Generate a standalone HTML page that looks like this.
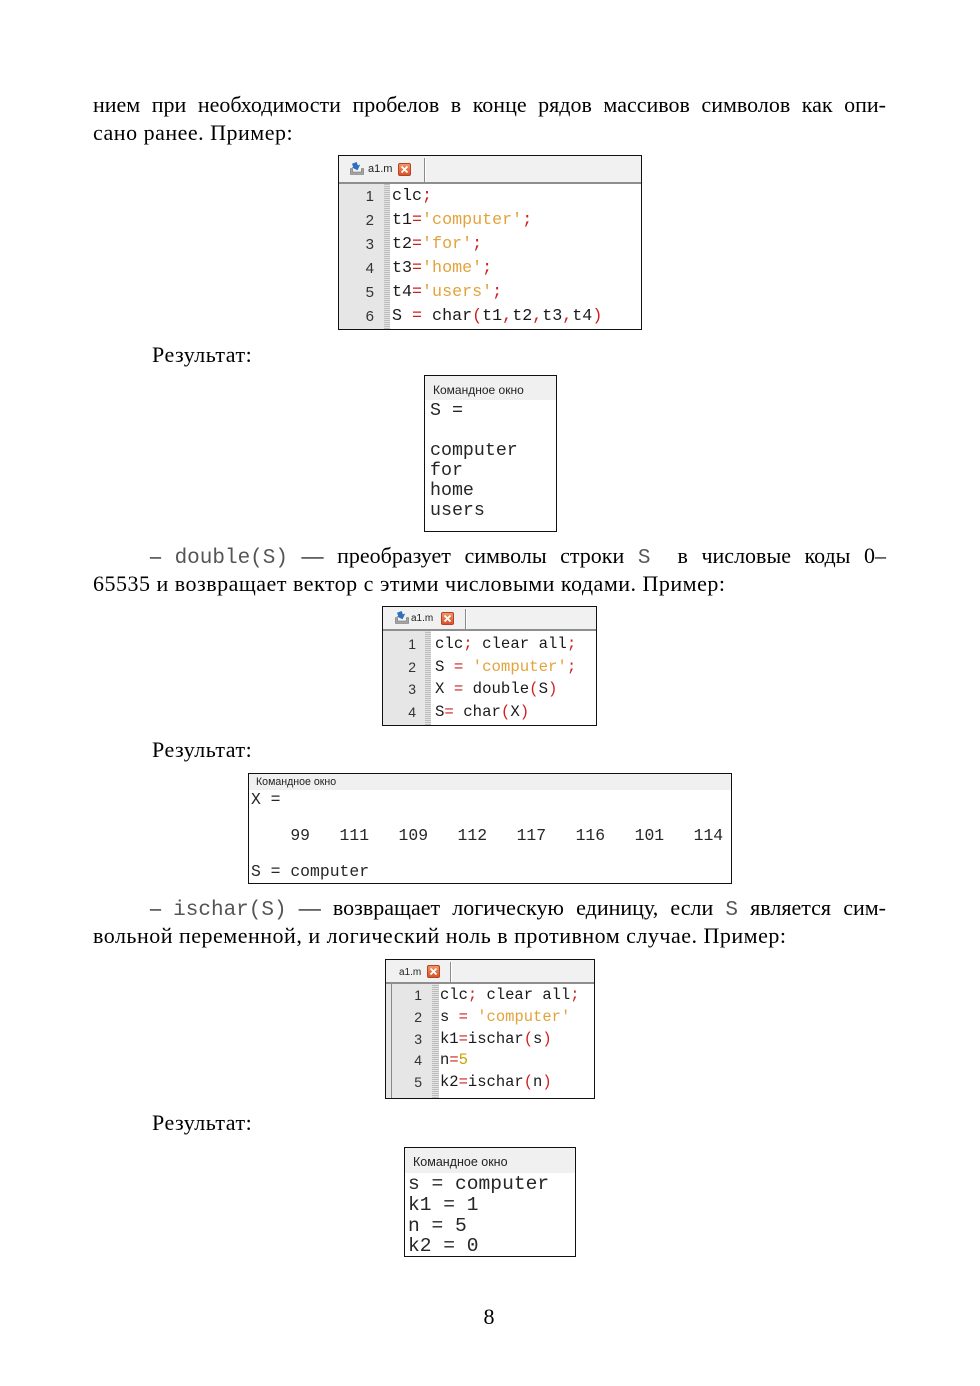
<!DOCTYPE html>
<html>
<head>
<meta charset="utf-8">
<style>
  html,body{margin:0;padding:0;background:#fff;}
  body{position:relative;width:980px;height:1386px;overflow:hidden;}
  .t{position:absolute;font-family:"Liberation Serif","DejaVu Serif",serif;font-size:22px;line-height:28px;color:#000;letter-spacing:0.5px;white-space:nowrap;}
  .j{text-align:justify;text-align-last:justify;white-space:normal;letter-spacing:0;}
  .m{font-family:"Liberation Mono","DejaVu Sans Mono",monospace;font-size:21px;color:#555;letter-spacing:0;}
  .ed{position:absolute;border:1px solid #111;background:#fff;overflow:hidden;}
  .tab{position:absolute;left:0;top:0;right:0;background:#f1f1f1;border-bottom:2px solid #8e8e8e;}
  .tabname{position:absolute;font-family:"Liberation Sans","DejaVu Sans",sans-serif;color:#222;white-space:nowrap;}
  .sep{position:absolute;width:1px;background:#8a8a8a;box-shadow:1px 0 0 #fff;}
  .xb{position:absolute;width:11px;height:11px;background:linear-gradient(#f39467,#d9542c);border:1px solid #b5451f;border-radius:2px;}
  .xb svg{position:absolute;left:0;top:0;}
  .ic{position:absolute;}
  .gut{position:absolute;left:0;bottom:0;background:#e6e6e6;}
  .hat{position:absolute;top:0;bottom:0;right:0;background:repeating-linear-gradient(0deg,#bdbdbd 0 1px,#e2e2e2 1px 2px);}
  .num{position:absolute;font-family:"Liberation Sans","DejaVu Sans",sans-serif;color:#333;text-align:right;white-space:pre;}
  .code{position:absolute;font-family:"Liberation Mono","DejaVu Sans Mono",monospace;color:#1a1a1a;white-space:pre;}
  .r{color:#cf1f1f;}
  .s{color:#e3a33c;}
  .n5{color:#c9a400;}
  .cw{position:absolute;border:1px solid #111;background:#fff;overflow:hidden;}
  .cwt{position:absolute;left:0;top:0;right:0;background:#f0f0f0;}
  .cwtx{position:absolute;font-family:"Liberation Sans","DejaVu Sans",sans-serif;color:#222;white-space:nowrap;}
  .cwb{position:absolute;font-family:"Liberation Mono","DejaVu Sans Mono",monospace;color:#262626;white-space:pre;}
</style>
</head>
<body>

<!-- Paragraph 1 -->
<div class="t j" style="left:93px;top:91px;width:793px;">нием при необходимости пробелов в конце рядов массивов символов как опи-</div>
<div class="t" style="left:93px;top:119px;">сано ранее. Пример:</div>

<!-- Editor box 1 -->
<div class="ed" style="left:338px;top:155px;width:302px;height:173px;">
  <div class="tab" style="height:26px;">
    <svg class="ic" style="left:11px;top:6px;" width="14" height="13" viewBox="0 0 14 13">
      <path d="M0.5 6.5 L0.5 12.5 L13.5 12.5 L13.5 6.5 L11.5 6.5 L11.5 10 L2.5 10 L2.5 6.5 Z" fill="#a4a4a4" stroke="#6e6e6e" stroke-width="0.6"/>
      <path d="M3 0.5 L8 0.5 L8 4 L10.5 4 L6 8.5 L1.5 4 L3 4 Z" fill="#2f6fc0" transform="rotate(-20 6 4)"/>
    </svg>
    <div class="tabname" style="left:29px;top:6px;font-size:11px;line-height:14px;">a1.m</div>
    <div class="xb" style="left:59px;top:7px;"><svg width="11" height="11" viewBox="0 0 11 11"><path d="M2.5 2.5 L8.5 8.5 M8.5 2.5 L2.5 8.5" stroke="#fff" stroke-width="1.8"/></svg></div>
    <div class="sep" style="left:85px;top:2px;height:24px;"></div>
  </div>
  <div class="gut" style="top:28px;width:51px;"><div class="hat" style="width:6px;"></div></div>
  <div class="num" style="left:0;width:35px;top:29px;font-size:15px;line-height:24px;">1
2
3
4
5
6</div>
  <div class="code" style="left:53px;top:29px;font-size:16.7px;line-height:24px;">clc<span class="r">;</span>
t1<span class="r">=</span><span class="s">'computer'</span><span class="r">;</span>
t2<span class="r">=</span><span class="s">'for'</span><span class="r">;</span>
t3<span class="r">=</span><span class="s">'home'</span><span class="r">;</span>
t4<span class="r">=</span><span class="s">'users'</span><span class="r">;</span>
S <span class="r">=</span> char<span class="r">(</span>t1<span class="r">,</span>t2<span class="r">,</span>t3<span class="r">,</span>t4<span class="r">)</span></div>
</div>

<div class="t" style="left:152px;top:341px;">Результат:</div>

<!-- Command window 1 -->
<div class="cw" style="left:424px;top:375px;width:131px;height:155px;">
  <div class="cwt" style="height:24px;"></div>
  <div class="cwtx" style="left:8px;top:7px;font-size:12px;line-height:14px;">Командное окно</div>
  <div class="cwb" style="left:5px;top:25px;font-size:18.3px;line-height:20px;">S =

computer
for
home
users</div>
</div>

<!-- Paragraph 2 -->
<div class="t j" style="left:150px;top:542px;width:736px;">– <span class="m">double(S)</span> — преобразует символы строки <span class="m">S</span>&nbsp; в числовые коды 0–</div>
<div class="t" style="left:93px;top:570px;">65535 и возвращает вектор с этими числовыми кодами. Пример:</div>

<!-- Editor box 2 -->
<div class="ed" style="left:382px;top:606px;width:213px;height:118px;">
  <div class="tab" style="height:22px;">
    <svg class="ic" style="left:12px;top:4px;" width="14" height="13" viewBox="0 0 14 13">
      <path d="M0.5 6.5 L0.5 12.5 L13.5 12.5 L13.5 6.5 L11.5 6.5 L11.5 10 L2.5 10 L2.5 6.5 Z" fill="#a4a4a4" stroke="#6e6e6e" stroke-width="0.6"/>
      <path d="M3 0.5 L8 0.5 L8 4 L10.5 4 L6 8.5 L1.5 4 L3 4 Z" fill="#2f6fc0" transform="rotate(-20 6 4)"/>
    </svg>
    <div class="tabname" style="left:28px;top:5px;font-size:10px;line-height:13px;">a1.m</div>
    <div class="xb" style="left:58px;top:5px;"><svg width="11" height="11" viewBox="0 0 11 11"><path d="M2.5 2.5 L8.5 8.5 M8.5 2.5 L2.5 8.5" stroke="#fff" stroke-width="1.8"/></svg></div>
    <div class="sep" style="left:82px;top:2px;height:20px;"></div>
  </div>
  <div class="gut" style="top:24px;width:48px;"><div class="hat" style="width:6px;"></div></div>
  <div class="num" style="left:0;width:33px;top:26.2px;font-size:14px;line-height:22.6px;">1
2
3
4</div>
  <div class="code" style="left:52px;top:26.2px;font-size:15.7px;line-height:22.6px;">clc<span class="r">;</span> clear all<span class="r">;</span>
S <span class="r">=</span> <span class="s">'computer'</span><span class="r">;</span>
X <span class="r">=</span> double<span class="r">(</span>S<span class="r">)</span>
S<span class="r">=</span> char<span class="r">(</span>X<span class="r">)</span></div>
</div>

<div class="t" style="left:152px;top:736px;">Результат:</div>

<!-- Command window 2 -->
<div class="cw" style="left:248px;top:773px;width:482px;height:109px;">
  <div class="cwt" style="height:16px;"></div>
  <div class="cwtx" style="left:7px;top:1px;font-size:10.6px;line-height:14px;">Командное окно</div>
  <div class="cwb" style="left:2px;top:17px;font-size:16.4px;line-height:18px;">X =

    99   111   109   112   117   116   101   114

S = computer</div>
</div>

<!-- Paragraph 3 -->
<div class="t j" style="left:150px;top:894px;width:736px;">– <span class="m">ischar(S)</span> — возвращает логическую единицу, если <span class="m">S</span> является сим-</div>
<div class="t" style="left:93px;top:922px;">вольной переменной, и логический ноль в противном случае. Пример:</div>

<!-- Editor box 3 -->
<div class="ed" style="left:385px;top:959px;width:208px;height:138px;">
  <div class="tab" style="height:22px;">
    <div class="tabname" style="left:13px;top:6px;font-size:10px;line-height:13px;">a1.m</div>
    <div class="xb" style="left:41px;top:5px;"><svg width="11" height="11" viewBox="0 0 11 11"><path d="M2.5 2.5 L8.5 8.5 M8.5 2.5 L2.5 8.5" stroke="#fff" stroke-width="1.8"/></svg></div>
    <div class="sep" style="left:64px;top:2px;height:20px;"></div>
  </div>
  <div class="gut" style="top:24px;width:53px;"><div class="hat" style="width:7px;"></div></div>
  <div style="position:absolute;left:5px;top:24px;bottom:0;width:1px;background:#8a8a8a;"></div>
  <div class="num" style="left:0;width:36px;top:25.2px;font-size:14px;line-height:21.75px;">1
2
3
4
5</div>
  <div class="code" style="left:54px;top:25.2px;font-size:15.5px;line-height:21.75px;">clc<span class="r">;</span> clear all<span class="r">;</span>
s <span class="r">=</span> <span class="s">'computer'</span>
k1<span class="r">=</span>ischar<span class="r">(</span>s<span class="r">)</span>
n<span class="r">=</span><span class="n5">5</span>
k2<span class="r">=</span>ischar<span class="r">(</span>n<span class="r">)</span></div>
</div>

<div class="t" style="left:152px;top:1109px;">Результат:</div>

<!-- Command window 3 -->
<div class="cw" style="left:404px;top:1147px;width:170px;height:108px;">
  <div class="cwt" style="height:25px;"></div>
  <div class="cwtx" style="left:8px;top:7px;font-size:12.5px;line-height:15px;">Командное окно</div>
  <div class="cwb" style="left:3px;top:26px;font-size:19.6px;line-height:20.8px;">s = computer
k1 = 1
n = 5
k2 = 0</div>
</div>

<!-- Page number -->
<div class="t" style="left:0;top:1303px;width:978px;text-align:center;letter-spacing:0;">8</div>

</body>
</html>
